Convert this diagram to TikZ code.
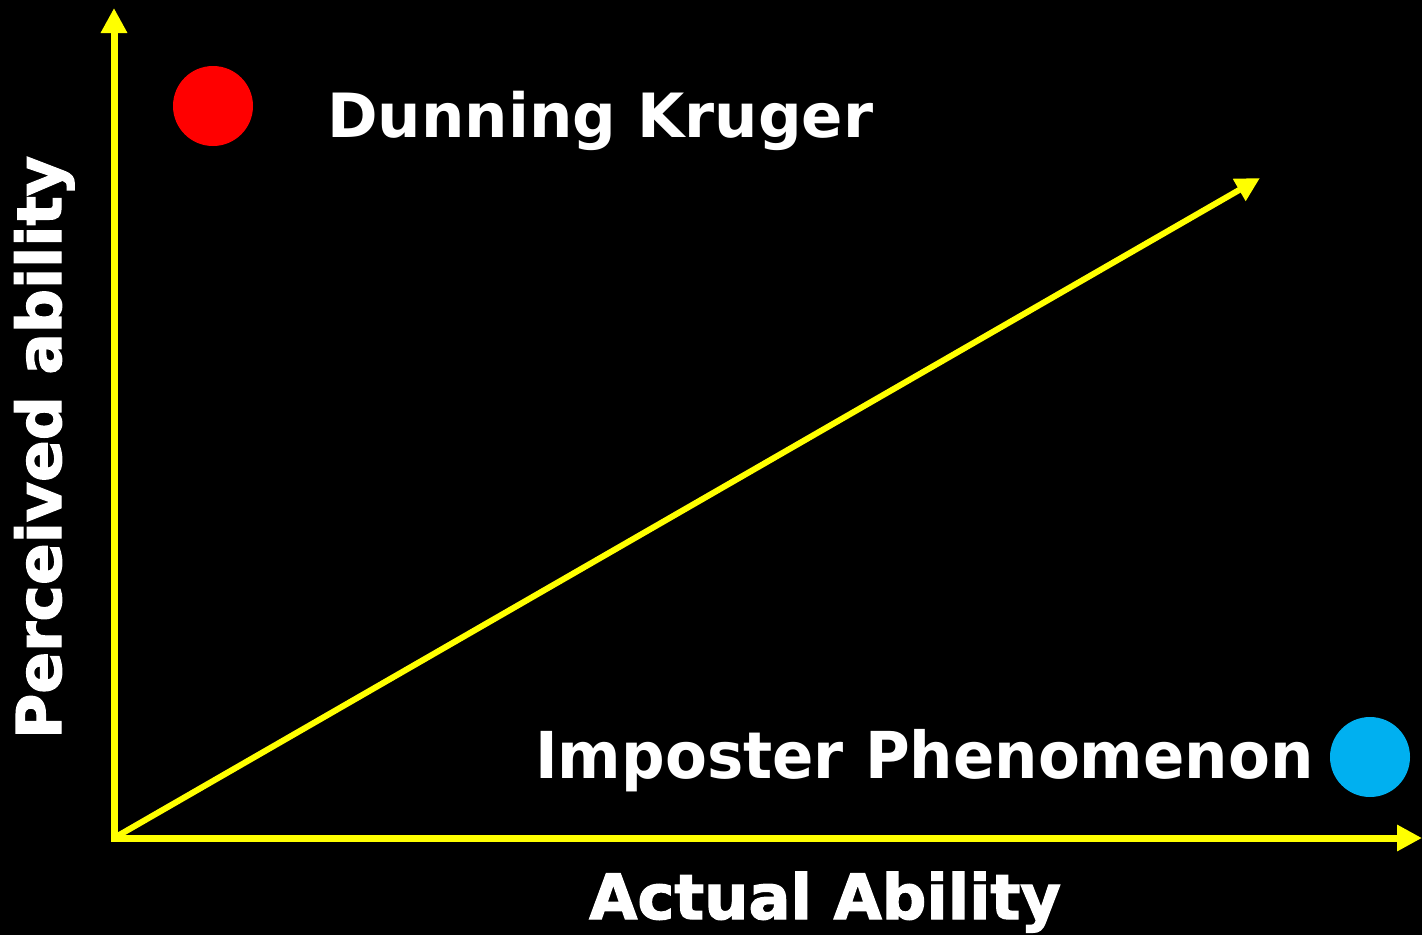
\documentclass[tikz,border=0pt]{standalone}
\usepackage{fontspec}
\setmainfont{DejaVu Sans}
\newfontfamily\heavyfont{DejaVu Sans Bold}[FakeBold=2]
\usetikzlibrary{arrows.meta}
\definecolor{axisyellow}{RGB}{255,255,0}
\definecolor{dotred}{RGB}{255,0,0}
\definecolor{dotblue}{RGB}{0,176,240}
\tikzset{
  axis/.style={draw=axisyellow, line width=7pt, -{Triangle[length=25pt,width=25pt]}},
  dot/.style={circle, inner sep=0pt, minimum size=80pt},
  lbl/.style={text=white, inner sep=0pt, font=\bfseries},
}
\begin{document}
\begin{tikzpicture}[x=1pt,y=1pt]
\fill[black] (0,0) rectangle (1422,-935);
\useasboundingbox (0,0) rectangle (1422,-935);
\coordinate (O) at (114,-838);
\coordinate (Ytip) at (114,-8);
\coordinate (Xtip) at (1422,-838);
\coordinate (Dtip) at (1260,-178);
\coordinate (Ostart) at (114,-841.5);
\coordinate (Xstart) at (111,-838);
\draw[axis] (Ostart) -- (Ytip);
\draw[axis] (Xstart) -- (Xtip);
\draw[axis, line width=6pt, -{Triangle[length=24pt,width=24pt]}] (O) -- (Dtip);
\node[dot, fill=dotred] (dk) at (213,-106) {};
\node[dot, fill=dotblue] (ip) at (1370,-757) {};
\node[lbl, anchor=base west, font=\fontsize{61}{61}\selectfont\bfseries] (dktext) at (327,-137) {Dunning Kruger};
\node[lbl, anchor=base west, font=\fontsize{61}{61}\selectfont\bfseries, yscale=1.06] (iptext) at (535,-778) {Imposter Phenomenon};
\node[lbl, anchor=base west, font=\fontsize{62.3}{62.3}\selectfont\heavyfont] (xlab) at (589,-919) {Actual Ability};
\node[lbl, anchor=base west, rotate=90, font=\fontsize{61.6}{61.6}\selectfont\heavyfont] (ylab) at (61,-739) {Perceived ability};
\end{tikzpicture}
\end{document}
